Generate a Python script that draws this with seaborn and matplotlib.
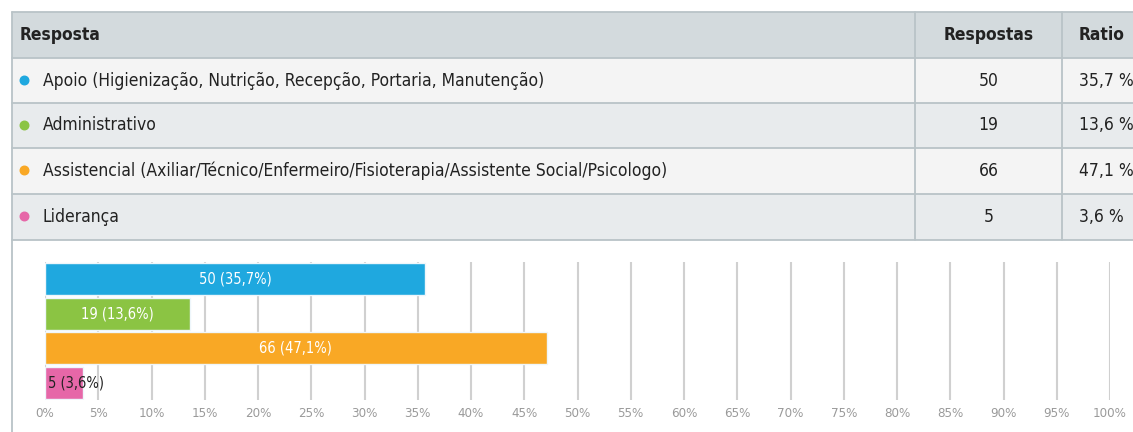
import numpy as np
import pandas as pd
import seaborn as sns
import matplotlib.pyplot as plt
from matplotlib.patches import Rectangle

# dados
categorias = ["Apoio (Higienização, Nutrição, Recepção, Portaria, Manutenção)",
              "Administrativo",
              "Assistencial (Axiliar/Técnico/Enfermeiro/Fisioterapia/Assistente Social/Psicologo)",
              "Liderança"]
respostas = [50, 19, 66, 5]
ratio = [35.7, 13.6, 47.1, 3.6]
cores = ["#1fa8df", "#8bc443", "#f9a825", "#e667a8"]
ticks = list(range(0, 101, 5))

sns.set_theme(style="white")
plt.rcParams['font.family'] = ['DejaVu Sans']
plt.rcParams['font.stretch'] = 'condensed'

W, H = 1133, 432
fig = plt.figure(figsize=(W / 100, H / 100), dpi=100)
fig.patch.set_facecolor("white")

# %% tabela (coordenadas em pixels)
tab = fig.add_axes([0, 0, 1, 1])
tab.set_xlim(0, W)
tab.set_ylim(H, 0)
tab.axis("off")

linha = "#b9c3c7"
x0, c1, c2 = 12, 915, 1062
topos = [12, 58, 103, 148, 194, 240]
fundos = ["#d3dadd", "#f4f4f4", "#e8ebed", "#f4f4f4", "#e8ebed"]
for i in range(5):
    tab.add_patch(Rectangle((x0, topos[i]), W - x0, topos[i + 1] - topos[i],
                            facecolor=fundos[i], edgecolor="none", zorder=1))
for y in topos:
    tab.plot([x0, W], [y, y], color=linha, lw=1.3, zorder=2)
tab.plot([x0, x0], [12, H], color=linha, lw=1.3, zorder=2)
for xc in (c1, c2):
    tab.plot([xc, xc], [12, 240], color=linha, lw=1.3, zorder=2)

txt = "#222222"
fs = 12.5
hy = (topos[0] + topos[1]) / 2
tab.text(20, hy, "Resposta", fontsize=fs, fontweight="bold", color=txt, va="center", ha="left")
tab.text((c1 + c2) / 2, hy, "Respostas", fontsize=fs, fontweight="bold", color=txt, va="center", ha="center")
tab.text(1079, hy, "Ratio", fontsize=fs, fontweight="bold", color=txt, va="center", ha="left")
for i, (cat, n, r, c) in enumerate(zip(categorias, respostas, ratio, cores)):
    yc = (topos[i + 1] + topos[i + 2]) / 2
    tab.scatter([24], [yc - 1], s=38, color=c, zorder=3)
    tab.text(43, yc, cat, fontsize=fs, color=txt, va="center", ha="left")
    tab.text((c1 + c2) / 2, yc, str(n), fontsize=fs, color=txt, va="center", ha="center")
    tab.text(1079, yc, f"{r:.1f} %".replace(".", ","), fontsize=fs, color=txt, va="center", ha="left")

# %% grafico de barras
ax = fig.add_axes([45 / W, 1 - 400 / H, (1110 - 45) / W, (400 - 262) / H])
df = pd.DataFrame({"cat": categorias, "ratio": ratio})
sns.barplot(data=df, x="ratio", y="cat", hue="cat", palette=cores, legend=False,
            orient="h", width=0.94, saturation=1, edgecolor="#eef6fb", linewidth=1,
            ax=ax, zorder=3)
ax.set_xlim(0, 100)
ax.set_ylim(3.5, -0.5)
ax.set_xticks(ticks)
ax.set_xticklabels([f"{t}%" for t in ticks], fontsize=9.5, color="#9a9a9a")
ax.set_yticks([])
ax.set_xlabel("")
ax.set_ylabel("")
ax.tick_params(axis="x", length=0, pad=5)
for s in ax.spines.values():
    s.set_visible(False)
ax.grid(axis="x", color="#d0d0d0", lw=1.5, zorder=0)
ax.set_facecolor("none")

for p, n, r in zip(ax.patches, respostas, ratio):
    rotulo = f"{n} ({r:.1f}%)".replace(".", ",")
    yc = p.get_y() + p.get_height() / 2
    if p.get_width() > 8:
        ax.text(p.get_width() / 2, yc, rotulo, color="white", fontsize=10.5,
                ha="center", va="center", zorder=4)
    else:
        ax.text(0.3, yc, rotulo, color="#222222", fontsize=10.5,
                ha="left", va="center", zorder=4)

fig.savefig("out.png", dpi=100)
